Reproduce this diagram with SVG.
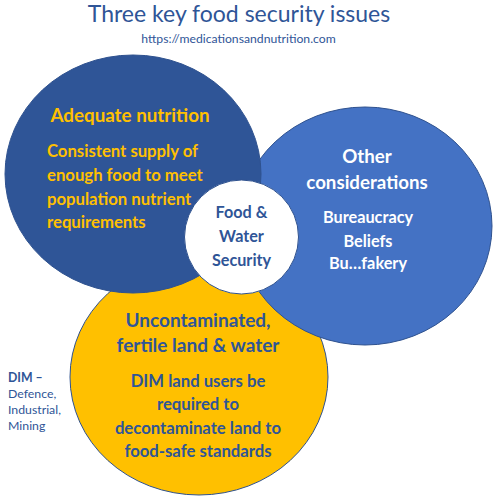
<svg xmlns="http://www.w3.org/2000/svg" width="498" height="502" viewBox="0 0 498 502">
<style>
.c{stroke:#2F528F;stroke-width:1}
text{font-family:Lato,"Open Sans","Liberation Sans",sans-serif;text-anchor:middle}
.s{text-anchor:start}
.b{font-weight:bold}
.y{fill:#FFC000}
.w{fill:#FFFFFF}
.d{fill:#2F5597}
</style>
<rect width="498" height="502" fill="#FFFFFF"/>
<text x="239" y="22" class="d" font-size="23">Three key food security issues</text>
<text x="238.5" y="43" class="d" font-size="12.2">https://medicationsandnutrition.com</text>
<g id="land">
<ellipse cx="199" cy="377" rx="129" ry="118" fill="#FFC000" class="c"/>
</g>
<g id="other">
<ellipse cx="365" cy="226" rx="127" ry="119" fill="#4472C4" class="c"/>
</g>
<g id="nutrition">
<ellipse cx="133" cy="174" rx="128" ry="119" fill="#2F5597" class="c"/>
</g>
<g id="centre">
<circle cx="241.5" cy="237" r="57" fill="#FFFFFF" class="c"/>
<text class="b d" font-size="16.2" x="241.5" y="218">Food &amp;</text>
<text class="b d" font-size="16.2" x="241.5" y="242">Water</text>
<text class="b d" font-size="16.2" x="241.5" y="266">Security</text>
</g>
<g id="nutrition-text">
<text class="b y" font-size="18.8" x="130" y="122">Adequate nutrition</text>
<text class="b y s" font-size="16.7" x="47" y="157">Consistent supply of</text>
<text class="b y s" font-size="16.7" x="47" y="181">enough food to meet</text>
<text class="b y s" font-size="16.7" x="47" y="205">population nutrient</text>
<text class="b y s" font-size="16.7" x="47" y="228">requirements</text>
</g>
<g id="other-text">
<text class="b w" font-size="18.7" x="367" y="163">Other</text>
<text class="b w" font-size="18.7" x="367" y="189">considerations</text>
<text class="b w" font-size="16.3" x="368" y="223">Bureaucracy</text>
<text class="b w" font-size="16.3" x="368" y="247">Beliefs</text>
<text class="b w" font-size="16.3" x="368" y="269">Bu…fakery</text>
</g>
<g id="land-text">
<text class="b d" font-size="19" x="198" y="327">Uncontaminated,</text>
<text class="b d" font-size="19" x="198" y="352">fertile land &amp; water</text>
<text class="b d" font-size="16.7" x="198" y="387">DIM land users be</text>
<text class="b d" font-size="16.7" x="198" y="410">required to</text>
<text class="b d" font-size="16.7" x="198" y="434">decontaminate land to</text>
<text class="b d" font-size="16.7" x="198" y="457">food-safe standards</text>
</g>
<g id="dim-note">
<text x="8" y="382" class="b d s" font-size="12.3">DIM –</text>
<text x="8" y="398" class="d s" font-size="12.3">Defence,</text>
<text x="8" y="414" class="d s" font-size="12.3">Industrial,</text>
<text x="8" y="430" class="d s" font-size="12.3">Mining</text>
</g>
</svg>
